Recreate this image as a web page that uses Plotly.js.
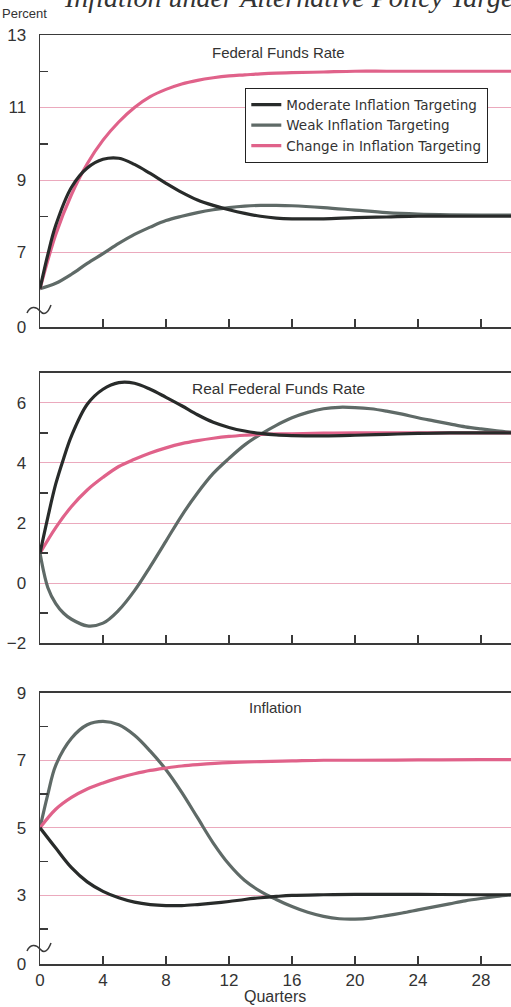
<!DOCTYPE html>
<html><head><meta charset="utf-8">
<script src="https://cdn.plot.ly/plotly-3.0.1.min.js"></script>
<style>html,body{margin:0;padding:0;background:#fff;overflow:hidden}#chart{width:511px;height:1007px}</style>
</head><body><div id="chart"></div>
<script>
// ---------- data ----------
const seriesNames = ["Moderate Inflation Targeting", "Weak Inflation Targeting", "Change in Inflation Targeting"];
const panelTitles = ["Federal Funds Rate", "Real Federal Funds Rate", "Inflation"];

// Federal funds rate
const ffrModQuarters = [0,0.5,1,2,3,4,5,6,7,8,9,10,11,12,13,14,15,16,18,20,22,24,26,28,30];
const ffrModerate    = [6,6.95,7.75,8.8,9.33,9.57,9.6,9.43,9.18,8.91,8.66,8.45,8.3,8.18,8.08,8.0,7.95,7.93,7.93,7.96,7.98,8.0,8.0,8.0,8.0];
const ffrQuarters = [0,1,2,3,4,5,6,7,8,9,10,11,12,13,14,15,16,18,20,22,24,26,28,30];
const ffrWeak     = [6,6.15,6.4,6.7,6.97,7.25,7.5,7.7,7.88,8.0,8.1,8.18,8.24,8.28,8.3,8.3,8.29,8.24,8.17,8.1,8.06,8.04,8.03,8.03];
const ffrChange   = [6,7.5,8.6,9.45,10.1,10.6,11.0,11.3,11.5,11.65,11.75,11.82,11.87,11.9,11.93,11.95,11.96,11.98,12.0,12.0,12.0,12.0,12.0,12.0];

// Real federal funds rate
const rffrModQuarters = [0,0.5,1,1.5,2,3,4,5,6,7,8,9,10,11,12,13,14,15,16,18,20,22,24,26,28,30];
const rffrModerate    = [1.0,2.2,3.3,4.15,4.9,5.95,6.45,6.67,6.65,6.45,6.18,5.9,5.6,5.35,5.18,5.06,4.98,4.93,4.91,4.9,4.92,4.95,4.98,5.0,5.0,5.0];
const rffrWeakQuarters = [0,0.5,1,1.5,2,3,4,5,6,7,8,9,10,11,12,13,14,15,16,17,18,19,20,21,22,23,24,25,26,27,28,29,30];
const rffrWeak         = [1.0,-0.15,-0.68,-1.0,-1.2,-1.42,-1.33,-0.9,-0.25,0.55,1.4,2.25,3.0,3.65,4.15,4.6,4.95,5.25,5.5,5.68,5.8,5.85,5.84,5.8,5.72,5.62,5.5,5.4,5.3,5.2,5.13,5.07,5.02];
const rffrChangeQuarters = [0,1,2,3,4,5,6,7,8,9,10,11,12,13,14,16,18,20,24,28,30];
const rffrChange         = [1.0,1.85,2.55,3.1,3.52,3.88,4.12,4.33,4.5,4.64,4.74,4.82,4.88,4.92,4.95,4.97,4.99,5.0,5.0,5.0,5.0];

// Inflation
const infModQuarters = [0,1,2,3,4,5,6,7,8,9,10,11,12,13,14,15,16,18,20,24,28,30];
const infModerate    = [5.0,4.4,3.82,3.4,3.12,2.93,2.8,2.73,2.7,2.7,2.73,2.77,2.82,2.88,2.93,2.97,3.0,3.02,3.03,3.03,3.02,3.02];
const infWeakQuarters = [0,0.5,1,2,3,4,5,6,7,8,9,10,11,12,13,14,15,16,17,18,19,20,21,22,23,24,25,26,27,28,29,30];
const infWeak         = [5.0,6.0,6.85,7.65,8.05,8.15,8.05,7.74,7.27,6.72,6.05,5.3,4.55,3.92,3.44,3.12,2.88,2.67,2.5,2.38,2.31,2.3,2.33,2.4,2.48,2.57,2.66,2.75,2.84,2.91,2.97,3.02];
const infChangeQuarters = [0,1,2,3,4,5,6,7,8,9,10,12,14,16,18,20,24,28,30];
const infChange         = [5.0,5.55,5.9,6.15,6.33,6.48,6.6,6.7,6.77,6.83,6.87,6.93,6.96,6.98,7.0,7.0,7.01,7.02,7.02];

// axis ticks
const xTickVals = [0,4,8,12,16,20,24,28];
const xTickText = ["0","4","8","12","16","20","24","28"];
const y1Labels = ["0","7","9","11","13"];
const y1Vals = [7,9,11,13];
const y1Minor = [8,10,12];
const y2Vals = [-2,0,2,4,6];
const y2Labels = ["\u22122","0","2","4","6"];
const y2Minor = [-1,1,3,5];
const y3Labels = ["0","3","5","7","9"];
const y3Vals = [3,5,7,9];
const y3Minor = [2,4,6,8];

// ---------- layout helpers ----------
const W = 511, H = 1007, ML = 40;
const colors = ["#282b2a", "#5f6a67", "#e0628a"];
const y1Range = [4.945, 13], y2Range = [-2, 7], y3Range = [0.97, 9];
const dom1 = [1 - 327/H, 1 - 35/H], dom2 = [1 - 643.3/H, 1 - 372.7/H], dom3 = [1 - 964/H, 1 - 692.7/H];

function tr(x, y, idx, xa, ya, show) {
  return {x: x, y: y, type: "scatter", mode: "lines", name: seriesNames[idx],
    xaxis: xa, yaxis: ya, showlegend: show, legendrank: idx,
    line: {color: colors[idx], width: 3.2, shape: "spline", smoothing: 1}, hoverinfo: "skip"};
}
const data = [
  tr(ffrQuarters, ffrWeak, 1, "x", "y", true),
  tr(ffrQuarters, ffrChange, 2, "x", "y", true),
  tr(ffrModQuarters, ffrModerate, 0, "x", "y", true),
  tr(rffrWeakQuarters, rffrWeak, 1, "x2", "y2", false),
  tr(rffrChangeQuarters, rffrChange, 2, "x2", "y2", false),
  tr(rffrModQuarters, rffrModerate, 0, "x2", "y2", false),
  tr(infWeakQuarters, infWeak, 1, "x3", "y3", false),
  tr(infChangeQuarters, infChange, 2, "x3", "y3", false),
  tr(infModQuarters, infModerate, 0, "x3", "y3", false)
];

const font = {family: "Liberation Sans, Arial, Helvetica, sans-serif", color: "#333"};
const axisLine = "#3a3a3a", gridPink = "#eba9bd";
function xax(anchor, labels) {
  return {anchor: anchor, range: [0, (W - ML) / 15.75], showgrid: false, zeroline: false,
    showline: true, linecolor: axisLine, linewidth: 1.5, mirror: true,
    tickmode: "array", tickvals: xTickVals, ticktext: xTickText, ticks: "inside", ticklen: 8,
    tickwidth: 1.5, tickcolor: axisLine, showticklabels: labels,
    tickfont: Object.assign({}, font, {size: 17}), fixedrange: true};
}
function yax(domain, range, vals, labels, minor) {
  return {domain: domain, range: range, zeroline: false, showline: true, linecolor: axisLine, linewidth: 1.5,
    tickmode: "array", tickvals: vals, ticktext: labels, ticks: "", showgrid: true, gridcolor: gridPink, gridwidth: 1,
    ticklabelstandoff: 9, tickfont: Object.assign({}, font, {size: 17}), fixedrange: true,
    minor: {tickmode: "array", tickvals: minor, ticks: "inside", ticklen: 8, tickwidth: 1.5, tickcolor: axisLine, showgrid: false}};
}
function px2paper(px, py) { return [(px - ML) / (W - ML), 1 - py / H]; }
function squiggle(cx, cy) {
  const pts = [[-13,3],[-10,-4],[-4,-4],[0,1],[4,6],[8,3],[11,-5]];
  const p = pts.map(d => px2paper(cx + d[0], cy + d[1]));
  return {type: "path", xref: "paper", yref: "paper", layer: "above",
    path: `M${p[0][0]},${p[0][1]} C${p[1][0]},${p[1][1]} ${p[2][0]},${p[2][1]} ${p[3][0]},${p[3][1]} C${p[4][0]},${p[4][1]} ${p[5][0]},${p[5][1]} ${p[6][0]},${p[6][1]}`,
    line: {color: axisLine, width: 1.5}};
}
function ann(text, px, py, size, extra) {
  const p = px2paper(px, py);
  return Object.assign({text: text, xref: "paper", yref: "paper", x: p[0], y: p[1], showarrow: false,
    xanchor: "center", yanchor: "middle", font: Object.assign({}, font, {size: size})}, extra || {});
}

const layout = {
  width: W, height: H, margin: {l: ML, r: 0, t: 0, b: 0, pad: 0},
  paper_bgcolor: "#fff", plot_bgcolor: "#fff", font: font,
  xaxis: xax("y", false), xaxis2: xax("y2", false), xaxis3: xax("y3", true),
  yaxis: yax(dom1, y1Range, [y1Range[0]].concat(y1Vals), y1Labels, y1Minor),
  yaxis2: yax(dom2, y2Range, y2Vals, y2Labels, y2Minor),
  yaxis3: yax(dom3, y3Range, [y3Range[0]].concat(y3Vals), y3Labels, y3Minor),
  showlegend: true,
  legend: {x: (245 - ML) / (W - ML), y: 1 - 88 / H, xanchor: "left", yanchor: "top",
    bgcolor: "#fff", bordercolor: "#222", borderwidth: 1.3,
    font: {family: "DejaVu Sans, Liberation Sans, sans-serif", size: 13.5, color: "#333"},
    traceorder: "normal", tracegroupgap: 0, itemwidth: 30},
  shapes: [squiggle(ML, 310), squiggle(ML, 948)],
  annotations: [
    ann("Inflation under Alternative Policy Targeting", 310, -2, 28, {font: {family: "Liberation Serif, DejaVu Serif, serif", size: 28, color: "#333", style: "italic"}}),
    ann("Percent", 0, 13, 13, {xanchor: "left"}),
    ann(panelTitles[0], 278, 52, 15),
    ann(panelTitles[1], 278, 388, 15.5),
    ann(panelTitles[2], 275, 707, 15),
    ann("Quarters", 275, 996, 16)
  ]
};
Plotly.newPlot("chart", data, layout, {displayModeBar: false, staticPlot: true});
</script></body></html>
